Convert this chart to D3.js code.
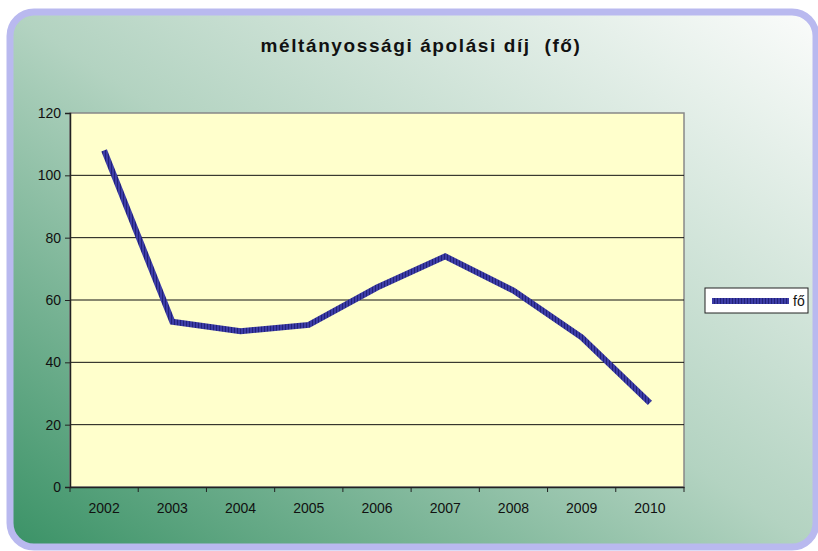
<head>
  <script src="https://cdnjs.cloudflare.com/ajax/libs/d3/7.8.5/d3.min.js"></script>
</head>
<style>
  body { margin: 0; background: #fff; }
  text { font-family: "Liberation Sans", Arial, sans-serif; }
</style>
<body>
<script>
var years = ["2002", "2003", "2004", "2005", "2006", "2007", "2008", "2009", "2010"];
var values = [108, 53, 50, 52, 64, 74, 63, 48, 27];
var yTicks = [0, 20, 40, 60, 80, 100, 120];
var seriesName = "fő";
var title = "méltányossági ápolási díj  (fő)";

var W = 818, H = 551;
var plot = {left: 70, top: 113, right: 684, bottom: 487};

var svg = d3.select("body").append("svg")
    .attr("width", W).attr("height", H);

var defs = svg.append("defs");
var grad = defs.append("linearGradient").attr("id", "bg")
    .attr("x1", "0").attr("y1", "1").attr("x2", "1").attr("y2", "0");
grad.append("stop").attr("offset", "0").attr("stop-color", "#3a9266");
grad.append("stop").attr("offset", "0.5").attr("stop-color", "#b3d3c1");
grad.append("stop").attr("offset", "1").attr("stop-color", "#fbfcfb");

var stripes = defs.append("pattern").attr("id", "stripes")
    .attr("patternUnits", "userSpaceOnUse").attr("width", 3).attr("height", 3);
stripes.append("rect").attr("width", 3).attr("height", 3).attr("fill", "#3c3ca6");
stripes.append("rect").attr("width", 1).attr("height", 3).attr("fill", "#22227a");

// outer frame
svg.append("rect")
    .attr("x", 10).attr("y", 12).attr("width", 806).attr("height", 535)
    .attr("rx", 24)
    .attr("fill", "url(#bg)")
    .attr("stroke", "#b9b9ef").attr("stroke-width", 7);

svg.append("text")
    .attr("x", 421).attr("y", 52)
    .attr("text-anchor", "middle")
    .attr("font-size", 19).attr("font-weight", "bold")
    .attr("letter-spacing", 1.6)
    .style("white-space", "pre")
    .attr("fill", "#111")
    .text(title);

var x = d3.scaleBand().domain(years).range([plot.left, plot.right]);
var y = d3.scaleLinear().domain([0, 120]).range([plot.bottom, plot.top]);

svg.append("rect")
    .attr("x", plot.left).attr("y", plot.top)
    .attr("width", plot.right - plot.left).attr("height", plot.bottom - plot.top)
    .attr("fill", "#ffffcc").attr("stroke", "#888").attr("stroke-width", 1.5);

svg.append("g").selectAll("line")
  .data(yTicks.filter(d => d > 0 && d < 120))
  .join("line")
    .attr("x1", plot.left).attr("x2", plot.right)
    .attr("y1", d => y(d)).attr("y2", d => y(d))
    .attr("stroke", "#111").attr("stroke-width", 1);

var yAxis = svg.append("g")
    .attr("transform", "translate(" + plot.left + ",0)")
    .call(d3.axisLeft(y).tickValues(yTicks).tickSize(5).tickPadding(4));
var xAxis = svg.append("g")
    .attr("transform", "translate(0," + plot.bottom + ")")
    .call(d3.axisBottom(x).tickSize(0).tickPadding(16));
xAxis.append("g").selectAll("line")
  .data(d3.range(years.length + 1))
  .join("line")
    .attr("x1", i => plot.left + i * x.step()).attr("x2", i => plot.left + i * x.step())
    .attr("y1", 0).attr("y2", 5)
    .attr("stroke", "#222");
[yAxis, xAxis].forEach(function(a) {
  a.attr("font-family", "'Liberation Sans', Arial, sans-serif");
  a.selectAll("path.domain").attr("stroke", "#222").attr("stroke-width", 1.5);
  a.selectAll("text").attr("font-size", 14).attr("fill", "#111");
  a.selectAll(".tick line").attr("stroke", "#222");
});

var line = d3.line()
    .x((d, i) => x(years[i]) + x.bandwidth() / 2)
    .y(d => y(d));

svg.append("path")
    .datum(values)
    .attr("d", line)
    .attr("fill", "none")
    .attr("stroke", "url(#stripes)")
    .attr("stroke-width", 6)
    .attr("stroke-linejoin", "miter");

// legend
var lg = svg.append("g").attr("transform", "translate(705,288)");
lg.append("rect").attr("width", 103).attr("height", 25)
    .attr("fill", "#fff").attr("stroke", "#222").attr("stroke-width", 1);
lg.append("rect").attr("x", 7).attr("y", 10).attr("width", 77).attr("height", 6)
    .attr("fill", "url(#stripes)");
lg.append("text").attr("x", 88).attr("y", 18)
    .attr("font-size", 14).attr("fill", "#111").text(seriesName);
</script>
</body>
